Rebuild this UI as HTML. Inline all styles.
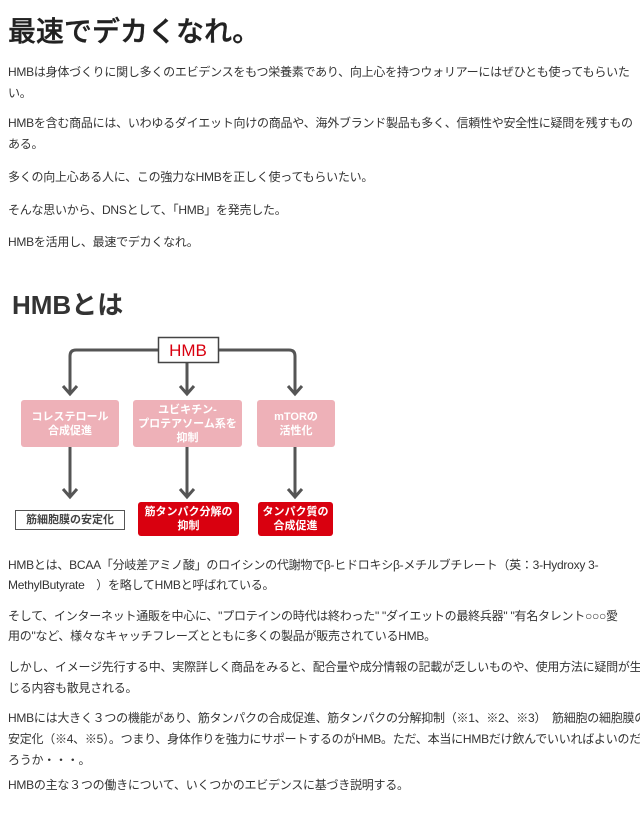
<!DOCTYPE html>
<html><head><meta charset="utf-8"><style>
body{margin:0;width:640px;height:824px;background:#fff;position:relative;overflow:hidden;font-family:"Liberation Sans","Noto Sans CJK JP",sans-serif;color:#333}
.t{position:absolute;left:8px;font-size:12px;white-space:nowrap;line-height:14px;letter-spacing:-0.25px}
.bx{position:absolute;display:flex;align-items:center;justify-content:center;text-align:center;font-size:11px;line-height:14px;font-weight:bold;box-sizing:border-box}
.pk{background:#eeb1b8;color:#fff;border-radius:3px}
.rd{background:#d9000f;color:#fff;border-radius:3px}
</style></head><body>
<div style="position:absolute;left:8px;top:14px;font-size:28px;line-height:36px;color:#222;font-weight:500;-webkit-text-stroke:0.4px #222">最速でデカくなれ。</div>
<div class="t" style="top:65px">HMBは身体づくりに関し多くのエビデンスをもつ栄養素であり、向上心を持つウォリアーにはぜひとも使ってもらいた</div>
<div class="t" style="top:86px">い。</div>
<div class="t" style="top:116px">HMBを含む商品には、いわゆるダイエット向けの商品や、海外ブランド製品も多く、信頼性や安全性に疑問を残すもの</div>
<div class="t" style="top:137px">ある。</div>
<div class="t" style="top:170px">多くの向上心ある人に、この強力なHMBを正しく使ってもらいたい。</div>
<div class="t" style="top:203px">そんな思いから、DNSとして、「HMB」を発売した。</div>
<div class="t" style="top:235px">HMBを活用し、最速でデカくなれ。</div>
<div style="position:absolute;left:12px;top:289px;font-size:26px;font-weight:bold;line-height:32px;color:#333">HMBとは</div>
<svg style="position:absolute;left:0;top:0" width="640" height="824">
<g stroke="#555" stroke-width="3" fill="none">
<path d="M158 350 H76 Q70 350 70 356 V393"/>
<path d="M218 350 H289 Q295 350 295 356 V393"/>
<path d="M187 362 V393"/>
<path d="M70 447 V495"/><path d="M187 447 V495"/><path d="M295 447 V495"/>
<path d="M63 386 L70 394 L77 386"/><path d="M180 386 L187 394 L194 386"/><path d="M288 386 L295 394 L302 386"/>
<path d="M63 489 L70 497 L77 489"/><path d="M180 489 L187 497 L194 489"/><path d="M288 489 L295 497 L302 489"/>
</g>
<rect x="158.5" y="337.5" width="60" height="25" fill="#fff" stroke="#444" stroke-width="1.5"/>
<text x="188" y="356" text-anchor="middle" fill="#d9000f" font-size="17" font-family="Liberation Sans">HMB</text>
</svg>
<div class="bx pk" style="left:21px;top:400px;width:98px;height:47px">コレステロール<br>合成促進</div>
<div class="bx pk" style="left:133px;top:400px;width:109px;height:47px">ユビキチン-<br>プロテアソーム系を<br>抑制</div>
<div class="bx pk" style="left:257px;top:400px;width:78px;height:47px">mTORの<br>活性化</div>
<div class="bx" style="left:15px;top:510px;width:110px;height:20px;border:1.5px solid #555;color:#444;background:#fff">筋細胞膜の安定化</div>
<div class="bx rd" style="left:138px;top:502px;width:101px;height:34px">筋タンパク分解の<br>抑制</div>
<div class="bx rd" style="left:258px;top:502px;width:75px;height:34px">タンパク質の<br>合成促進</div>
<div class="t" style="top:558px">HMBとは、BCAA「分岐差アミノ酸」のロイシンの代謝物でβ-ヒドロキシβ-メチルブチレート（英：3-Hydroxy 3-</div>
<div class="t" style="top:578px">MethylButyrate　）を略してHMBと呼ばれている。</div>
<div class="t" style="top:609px">そして、インターネット通販を中心に、"プロテインの時代は終わった" "ダイエットの最終兵器" "有名タレント○○○愛</div>
<div class="t" style="top:629px">用の"など、様々なキャッチフレーズとともに多くの製品が販売されているHMB。</div>
<div class="t" style="top:660px">しかし、イメージ先行する中、実際詳しく商品をみると、配合量や成分情報の記載が乏しいものや、使用方法に疑問が生</div>
<div class="t" style="top:681px">じる内容も散見される。</div>
<div class="t" style="top:711px">HMBには大きく３つの機能があり、筋タンパクの合成促進、筋タンパクの分解抑制（※1、※2、※3）　筋細胞の細胞膜の</div>
<div class="t" style="top:732px">安定化（※4、※5）。つまり、身体作りを強力にサポートするのがHMB。ただ、本当にHMBだけ飲んでいいればよいのだ</div>
<div class="t" style="top:753px">ろうか・・・。</div>
<div class="t" style="top:778px">HMBの主な３つの働きについて、いくつかのエビデンスに基づき説明する。</div>
</body></html>
